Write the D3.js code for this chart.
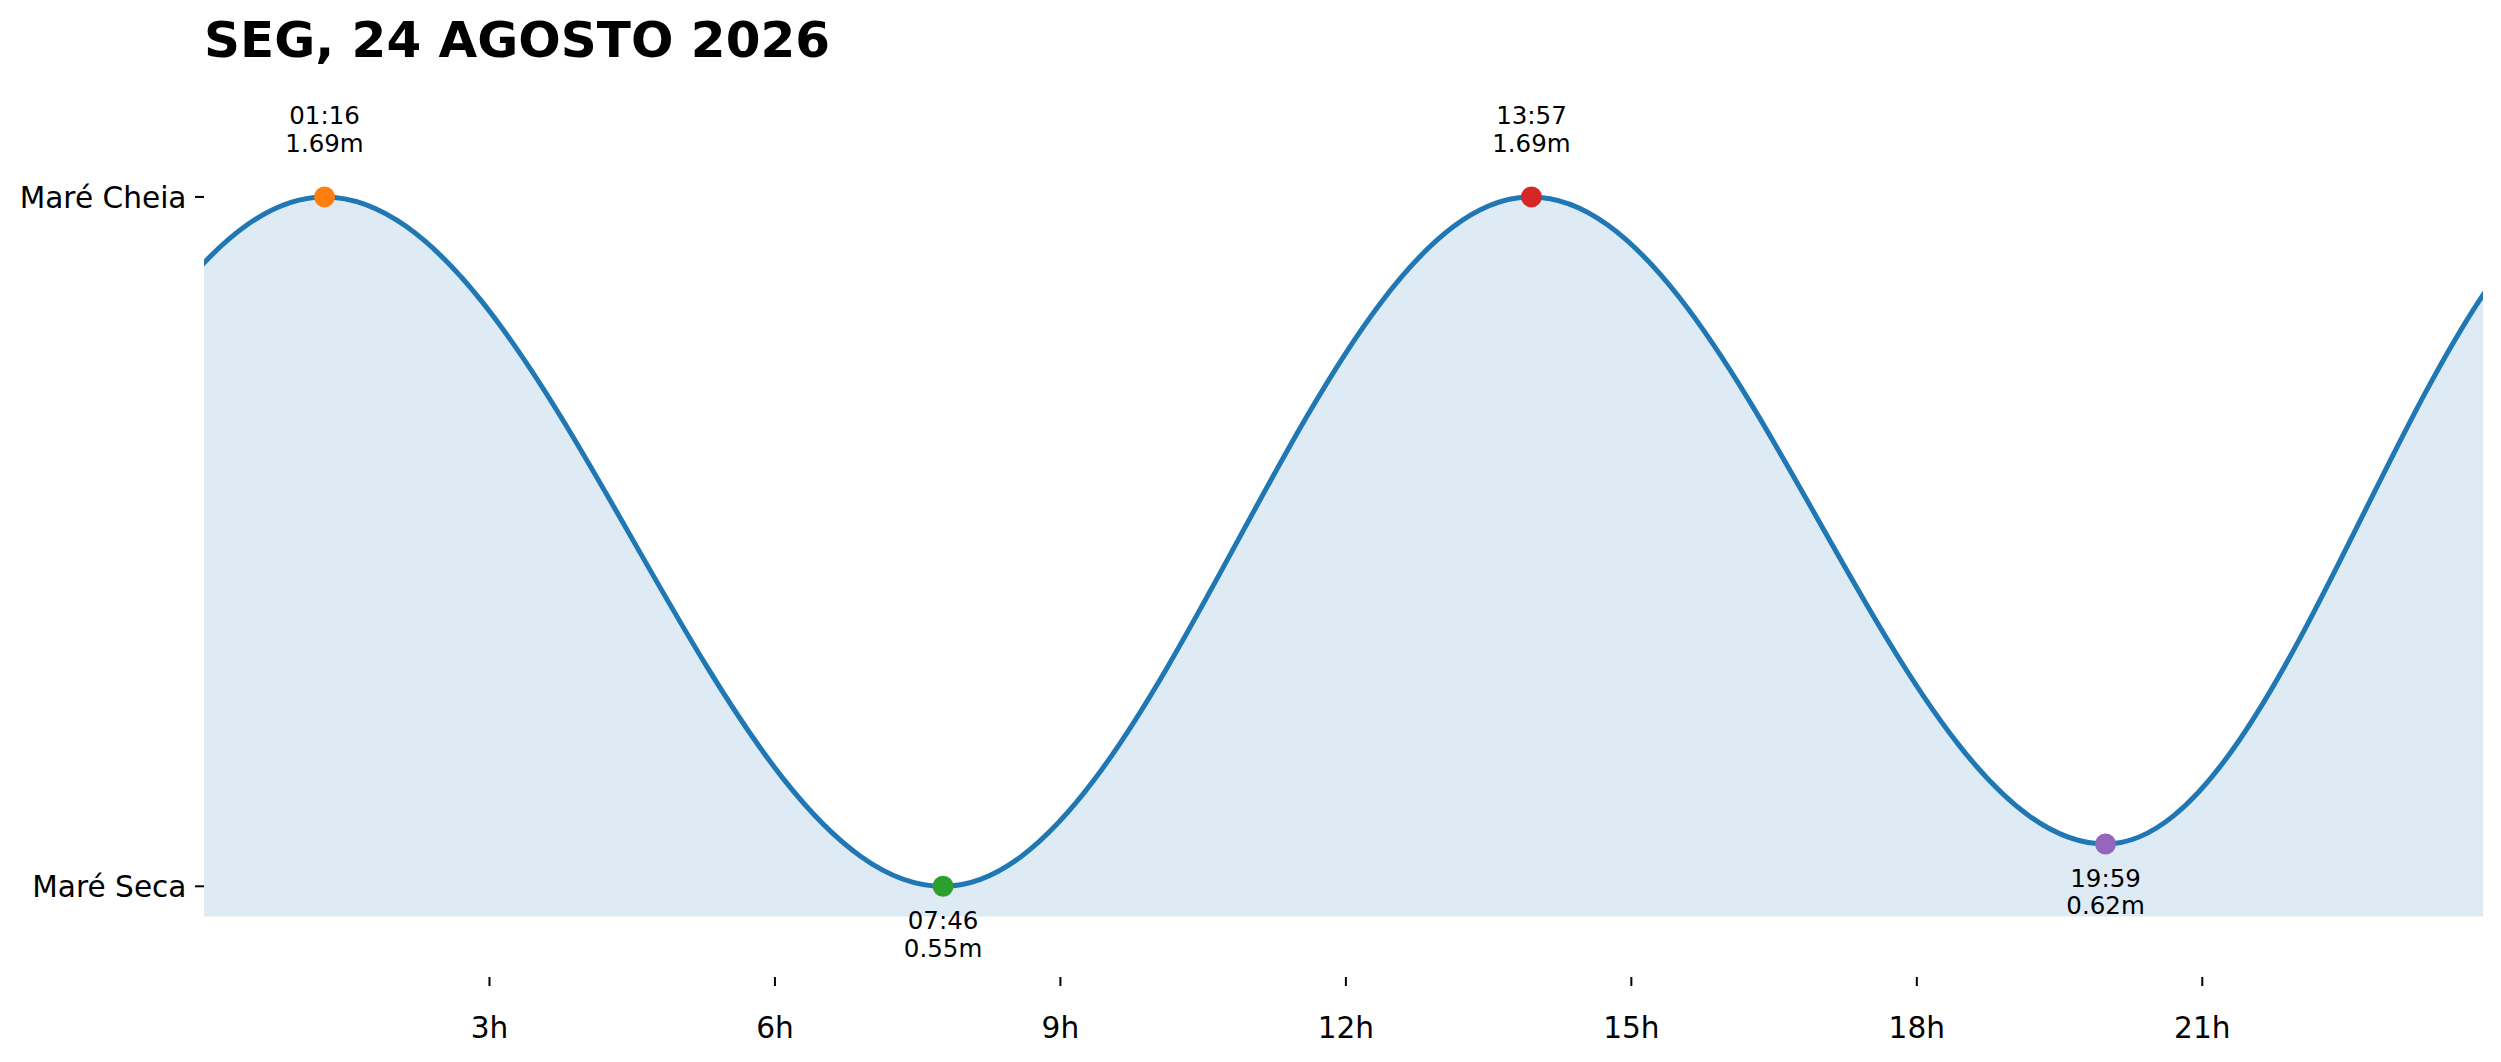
<!DOCTYPE html>
<html>
<head>
<meta charset="utf-8">
<script src="https://cdn.jsdelivr.net/npm/d3@7"></script>
<style>
    body { margin: 0; background: #fff; }
    svg { display: block; font-family: "DejaVu Sans", sans-serif; }
</style>
</head>
<body>
<div id="chart"></div>
<script>
const title = "SEG, 24 AGOSTO 2026";

// tide extremes of the day
const eventTimes = ["01:16", "07:46", "13:57", "19:59"];
const eventHeights = [1.69, 0.55, 1.69, 0.62];
const eventColors = ["#ff7f0e", "#2ca02c", "#d62728", "#9467bd"];

// neighbouring-day extremes, only used to shape the curve at the edges
const prevTime = "19:06", prevDay = -1, prevHeight = 0.61;
const nextTime = "01:24", nextDay = 1, nextHeight = 1.71;

const xTickHours = [3, 6, 9, 12, 15, 18, 21];
const xTickLabels = ["3h", "6h", "9h", "12h", "15h", "18h", "21h"];
const yTickLabels = ["Maré Seca", "Maré Cheia"];

const width = 2501, height = 1062;
const plotLeft = 204, plotRight = 2483, plotTop = 76, plotBottom = 977;

function toHours(t, day) {
    const [h, m] = t.split(":").map(Number);
    return (day || 0) * 24 + h + m / 60;
}

const points = [{ h: toHours(prevTime, prevDay), v: prevHeight }]
    .concat(eventTimes.map((t, i) => ({ h: toHours(t), v: eventHeights[i] })))
    .concat([{ h: toHours(nextTime, nextDay), v: nextHeight }]);

const x = d3.scaleLinear().domain([0, 23.95]).range([plotLeft, plotRight]);
const y = d3.scaleLinear().domain([0.4, 1.89]).range([plotBottom, plotTop]);

// half-cosine between extremes, drawn as one bezier per segment
function TideCurve(context) { this._context = context; }
TideCurve.prototype = {
    areaStart() { this._line = 0; },
    areaEnd() { this._line = NaN; },
    lineStart() { this._point = 0; },
    lineEnd() {
        if (this._line || (this._line !== 0 && this._point === 1)) this._context.closePath();
        this._line = 1 - this._line;
    },
    point(px, py) {
        px = +px; py = +py;
        if (this._point === 0) {
            this._point = 1;
            this._line ? this._context.lineTo(px, py) : this._context.moveTo(px, py);
        } else {
            this._point = 2;
            const k = 0.3634 * (px - this._x);
            this._context.bezierCurveTo(this._x + k, this._y, px - k, py, px, py);
        }
        this._x = px; this._y = py;
    }
};
const curveTide = context => new TideCurve(context);

const svg = d3.select("#chart").append("svg")
    .attr("width", width)
    .attr("height", height);

svg.append("rect").attr("width", width).attr("height", height).attr("fill", "#fff");

svg.append("clipPath").attr("id", "plotClip")
    .append("rect")
    .attr("x", plotLeft).attr("y", 0)
    .attr("width", plotRight - plotLeft).attr("height", height);

const plot = svg.append("g").attr("clip-path", "url(#plotClip)");

plot.append("path")
    .datum(points)
    .attr("d", d3.area().curve(curveTide).x(d => x(d.h)).y0(y(0.5)).y1(d => y(d.v)))
    .attr("fill", "#1f77b4")
    .attr("fill-opacity", 0.15);

plot.append("path")
    .datum(points)
    .attr("d", d3.line().curve(curveTide).x(d => x(d.h)).y(d => y(d.v)))
    .attr("fill", "none")
    .attr("stroke", "#1f77b4")
    .attr("stroke-width", 5);

// x axis: ticks only, no spine
const xAxis = svg.append("g");
xAxis.selectAll("line")
    .data(xTickHours)
    .enter()
    .append("line")
    .attr("x1", d => x(d)).attr("x2", d => x(d))
    .attr("y1", plotBottom).attr("y2", plotBottom + 9)
    .attr("stroke", "#000")
    .attr("stroke-width", 2);
xAxis.selectAll("text")
    .data(xTickHours)
    .enter()
    .append("text")
    .attr("x", d => x(d))
    .attr("y", 1038)
    .attr("text-anchor", "middle")
    .attr("font-size", 29.6)
    .text((d, i) => xTickLabels[i]);

// y axis: low / high markers
const yTickValues = [d3.min(eventHeights), d3.max(eventHeights)];
const yAxis = svg.append("g");
yAxis.selectAll("line")
    .data(yTickValues)
    .enter()
    .append("line")
    .attr("x1", plotLeft - 9).attr("x2", plotLeft)
    .attr("y1", d => y(d)).attr("y2", d => y(d))
    .attr("stroke", "#000")
    .attr("stroke-width", 2);
yAxis.selectAll("text")
    .data(yTickValues)
    .enter()
    .append("text")
    .attr("x", plotLeft - 17.5)
    .attr("y", d => y(d) + 10.8)
    .attr("text-anchor", "end")
    .attr("font-size", 29.6)
    .text((d, i) => yTickLabels[i]);

// extreme markers and labels
const events = eventTimes.map((t, i) => ({ t: t, h: toHours(t), v: eventHeights[i], c: eventColors[i] }));
const isHigh = (d, i) => i === 0 || d.v > events[i - 1].v;

svg.selectAll("circle.event")
    .data(events)
    .enter()
    .append("circle")
    .attr("class", "event")
    .attr("cx", d => x(d.h))
    .attr("cy", d => y(d.v))
    .attr("r", 10.5)
    .attr("fill", d => d.c);

const labels = svg.selectAll("text.event")
    .data(events)
    .enter()
    .append("text")
    .attr("class", "event")
    .attr("text-anchor", "middle")
    .attr("font-size", 24.5)
    .attr("x", d => x(d.h));
labels.append("tspan")
    .attr("x", d => x(d.h))
    .attr("y", (d, i) => y(d.v) + (isHigh(d, i) ? -73 : 43))
    .text(d => d.t);
labels.append("tspan")
    .attr("x", d => x(d.h))
    .attr("y", (d, i) => y(d.v) + (isHigh(d, i) ? -45 : 70.5))
    .text(d => d.v.toFixed(2) + "m");

svg.append("text")
    .attr("x", plotLeft)
    .attr("y", 56.7)
    .attr("font-size", 50)
    .attr("font-weight", "bold")
    .text(title);
</script>
</body>
</html>
